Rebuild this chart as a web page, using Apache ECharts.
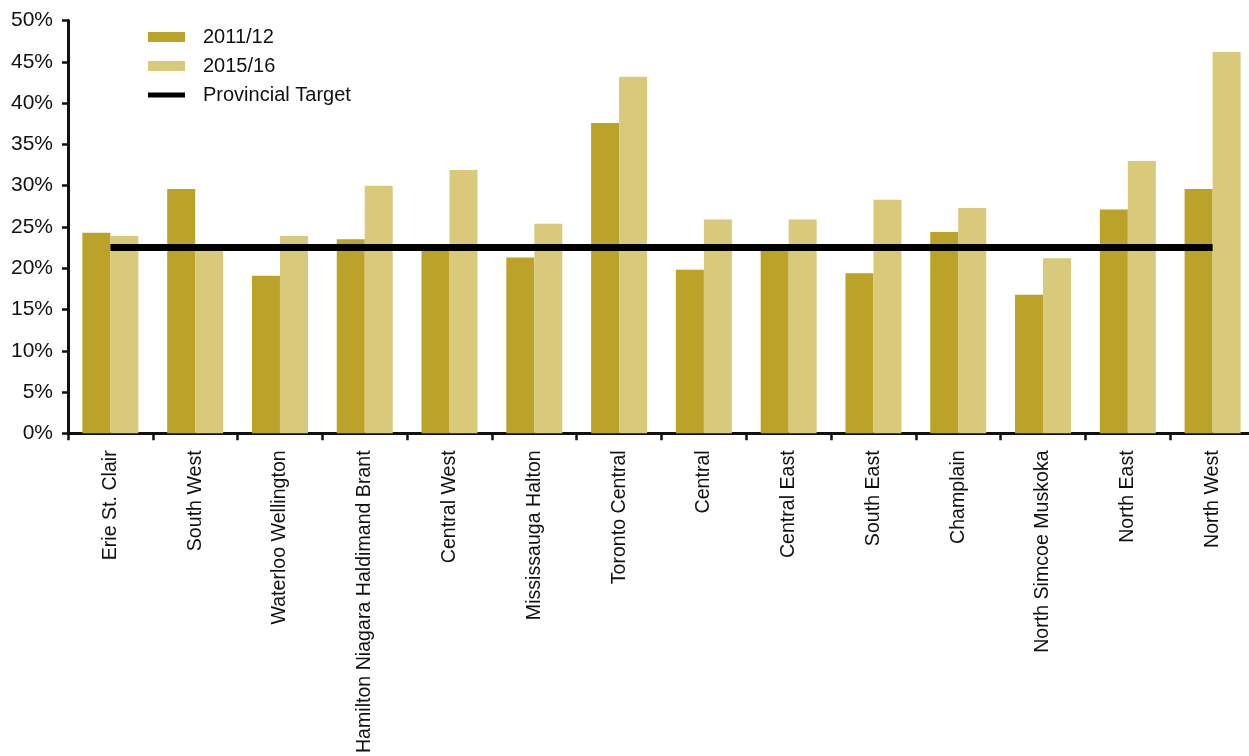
<!DOCTYPE html>
<html>
<head>
<meta charset="utf-8">
<script src="https://cdn.jsdelivr.net/npm/echarts@6/dist/echarts.min.js"></script>
<style>
  html, body { margin: 0; padding: 0; background: #ffffff; }
  #chart { width: 1249px; height: 756px; }
</style>
</head>
<body>
<div id="chart"></div>
<script>
// LHIN regions
const regions = [
  'Erie St. Clair', 'South West', 'Waterloo Wellington', 'Hamilton Niagara Haldimand Brant',
  'Central West', 'Mississauga Halton', 'Toronto Central', 'Central', 'Central East',
  'South East', 'Champlain', 'North Simcoe Muskoka', 'North East', 'North West'
];
// Percentages by fiscal year
const values2011 = [24.3, 29.6, 19.1, 23.5, 22.4, 21.3, 37.6, 19.8, 22.4, 19.4, 24.4, 16.8, 27.1, 29.6];
const values2015 = [23.9, 22.9, 23.9, 30.0, 31.9, 25.4, 43.2, 25.9, 25.9, 28.3, 27.3, 21.2, 33.0, 46.2];
const provincialTarget = [22.5, 22.5, 22.5, 22.5, 22.5, 22.5, 22.5, 22.5, 22.5, 22.5, 22.5, 22.5, 22.5, 22.5];
const yTicks = [0, 5, 10, 15, 20, 25, 30, 35, 40, 45, 50];

const FONT = '"Liberation Sans", Arial, sans-serif';
const chart = echarts.init(document.getElementById('chart'), null, { renderer: 'canvas' });

chart.setOption({
  backgroundColor: '#ffffff',
  animation: false,
  textStyle: { fontFamily: FONT, color: '#111' },
  legend: {
    orient: 'vertical',
    left: 148,
    top: 27,
    padding: 0,
    itemWidth: 37,
    itemHeight: 10,
    itemGap: 9,
    textStyle: { fontFamily: FONT, fontSize: 20, color: '#111', padding: [0, 0, 0, 13] },
    data: [
      { name: '2011/12', icon: 'rect' },
      { name: '2015/16', icon: 'rect' },
      { name: 'Provincial Target', icon: 'path://M0,0 L37,0 L37,5 L0,5 Z', itemStyle: { color: '#000' } }
    ]
  },
  grid: { left: 68, top: 20.6, width: 1187, bottom: 322.7, outerBoundsMode: 'none', containLabel: false },
  xAxis: {
    type: 'category',
    data: regions,
    boundaryGap: true,
    axisLine: { lineStyle: { color: '#111', width: 3 } },
    axisTick: { show: true, length: 7, lineStyle: { color: '#111', width: 2.5 }, alignWithLabel: false },
    axisLabel: {
      rotate: 90,
      interval: 0,
      margin: 17,
      fontFamily: FONT,
      fontSize: 19.6,
      color: '#111'
    }
  },
  yAxis: {
    type: 'value',
    min: yTicks[0],
    max: yTicks[yTicks.length - 1],
    interval: 5,
    splitLine: { show: false },
    axisLine: { show: true, lineStyle: { color: '#111', width: 3 } },
    axisTick: { show: true, length: 6, lineStyle: { color: '#111', width: 2.5 } },
    axisLabel: {
      margin: 15,
      fontFamily: FONT,
      fontSize: 21,
      color: '#111',
      formatter: v => v + '%'
    }
  },
  series: [
    {
      name: '2011/12',
      type: 'bar',
      data: values2011,
      barWidth: 28,
      barGap: '0%',
      itemStyle: { color: '#bba228' }
    },
    {
      name: '2015/16',
      type: 'bar',
      data: values2015,
      barWidth: 28,
      barGap: '0%',
      itemStyle: { color: '#d9c97b' }
    },
    {
      name: 'Provincial Target',
      type: 'line',
      data: provincialTarget,
      symbol: 'none',
      z: 5,
      lineStyle: { color: '#000', width: 7 },
      itemStyle: { color: '#000' }
    }
  ]
});
</script>
</body>
</html>
